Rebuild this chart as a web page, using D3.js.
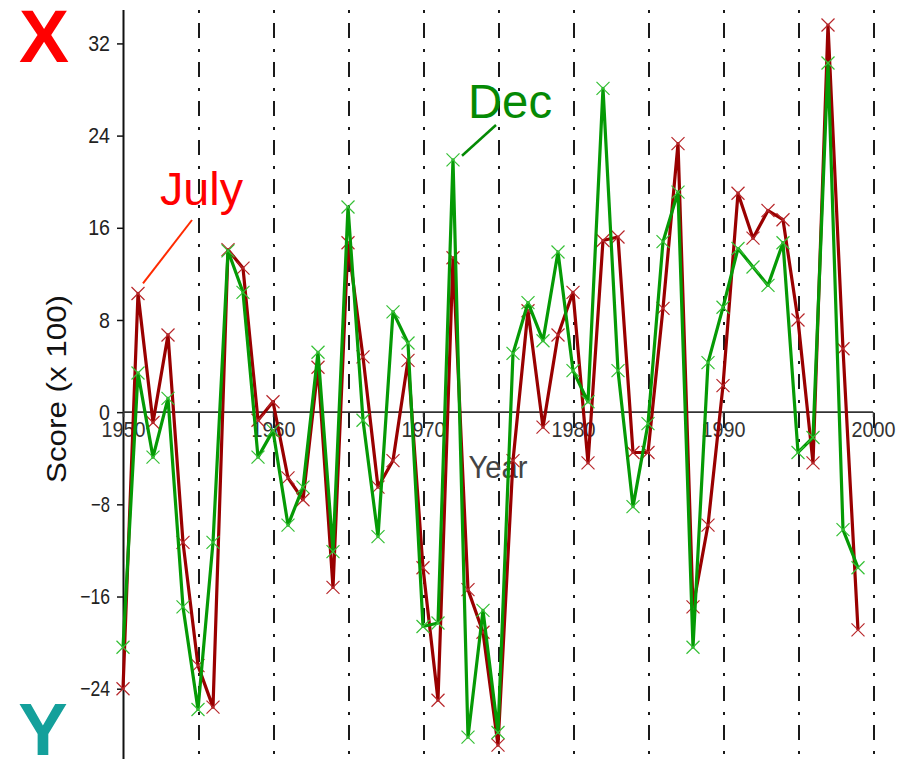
<!DOCTYPE html>
<html>
<head>
<meta charset="utf-8">
<script src="https://cdn.jsdelivr.net/npm/d3@7"></script>
<style>
  html, body { margin: 0; padding: 0; background: #fff; }
  svg { display: block; }
  text { font-family: "Liberation Sans", Arial, sans-serif; }
</style>
</head>
<body>
<svg id="chart" width="905" height="759"></svg>
<script>
// ---------------- data ----------------
const years = [1950,1951,1952,1953,1954,1955,1956,1957,1958,1959,
               1960,1961,1962,1963,1964,1965,1966,1967,1968,1969,
               1970,1971,1972,1973,1974,1975,1976,1977,1978,1979,
               1980,1981,1982,1983,1984,1985,1986,1987,1988,1989,
               1990,1991,1992,1993,1994,1995,1996,1997,1998,1999];
const july = [-24.0, 10.3, -0.9, 6.7, -11.3, -22.0, -25.6, 14.1, 12.5, -0.7,
               0.9, -5.7, -7.6, 3.9, -15.2, 14.7, 4.8, -6.5, -4.2, 4.5,
              -13.5, -25.0, 13.4, -15.4, -19.1, -28.9, -4.2, 8.8, -1.3, 6.7,
               10.4, -4.4, 14.9, 15.2, -3.5, -3.5, 9.0, 23.3, -16.9, -9.8,
               2.3, 19.0, 15.1, 17.5, 16.7, 8.0, -4.4, 33.6, 5.5, -18.9];
const dec = [-20.4, 3.4, -3.9, 1.2, -16.9, -25.8, -11.3, 14.0, 10.4, -3.9,
             -1.6, -9.8, -6.5, 5.2, -12.1, 17.8, -0.7, -10.8, 8.7, 6.0,
             -18.6, -18.3, 21.9, -28.2, -17.2, -27.8, 5.1, 9.5, 6.2, 13.9,
              3.6, 0.9, 28.1, 3.6, -8.2, -1.0, 14.8, 19.1, -20.4, 4.3,
              9.1, 14.2, 12.6, 11.0, 14.7, -3.5, -2.2, 30.3, -10.2, -13.5];
const yTicks = [-24, -16, -8, 0, 8, 16, 24, 32];
const xTicks = [1950, 1960, 1970, 1980, 1990, 2000];
const gridYears = [1955, 1960, 1965, 1970, 1975, 1980, 1985, 1990, 1995, 2000];
const xDomain = [1950, 2000];
const yDomain = [-30.1, 34.9];

// ---------------- layout ----------------
const svg = d3.select("#chart");
const plotL = 123, plotR = 873, plotT = 10, plotB = 759;
const x = d3.scaleLinear().domain(xDomain).range([plotL, plotR]);
const y = d3.scaleLinear().domain(yDomain).range([plotB, plotT]);

// vertical dash-dot grid lines
svg.append("g").selectAll("line").data(gridYears).join("line")
  .attr("x1", d => Math.round(x(d)) + 0.5).attr("x2", d => Math.round(x(d)) + 0.5)
  .attr("y1", plotT).attr("y2", plotB)
  .attr("stroke", "#1a1a1a").attr("stroke-width", 2)
  .attr("stroke-dasharray", "3,10,15,11")
  .attr("shape-rendering", "crispEdges");

// left (y) axis
const yAxis = d3.axisLeft(y).tickValues(yTicks).tickSize(6).tickPadding(6);
const gy = svg.append("g").attr("transform", `translate(${plotL},0)`).call(yAxis);
gy.select(".domain").remove();
gy.selectAll(".tick line").attr("stroke", "#111").attr("stroke-width", 1.5);
gy.selectAll(".tick text")
  .attr("font-size", 22).attr("fill", "#222")
  .attr("font-family", "Liberation Sans, Arial, sans-serif")
  .attr("x", -13)
  .attr("textLength", d => (String(Math.abs(d)).length * 10.9 + (d < 0 ? 8 : 0)))
  .attr("lengthAdjust", "spacingAndGlyphs");
svg.append("line")
  .attr("x1", plotL + 0.5).attr("x2", plotL + 0.5).attr("y1", plotT).attr("y2", plotB)
  .attr("stroke", "#111").attr("stroke-width", 2);

// horizontal (x) axis at y = 0
const xAxis = d3.axisBottom(x).tickValues(xTicks).tickFormat(d3.format("d")).tickSize(5).tickPadding(4);
const gx = svg.append("g").attr("transform", `translate(0,${y(0)})`).call(xAxis);
gx.select(".domain").attr("stroke", "#333").attr("stroke-width", 1.6)
  .attr("d", `M${plotL},0H${plotR}`);
gx.selectAll(".tick line").attr("stroke", "#333").attr("stroke-width", 1.5);
gx.selectAll(".tick text")
  .attr("font-size", 22).attr("fill", "#333")
  .attr("font-family", "Liberation Sans, Arial, sans-serif")
  .attr("textLength", 44).attr("lengthAdjust", "spacingAndGlyphs");

// axis titles
svg.append("text")
  .attr("x", 498).attr("y", 478)
  .attr("text-anchor", "middle")
  .attr("font-size", 31).attr("fill", "#444")
  .attr("textLength", 59).attr("lengthAdjust", "spacingAndGlyphs")
  .text("Year");
svg.append("text")
  .attr("transform", "translate(66,389) rotate(-90)")
  .attr("text-anchor", "middle")
  .attr("font-size", 28).attr("fill", "#111")
  .attr("textLength", 188).attr("lengthAdjust", "spacingAndGlyphs")
  .text("Score (x 100)");

// big corner letters
svg.append("text").attr("x", 44).attr("y", 62).attr("text-anchor", "middle")
  .attr("font-size", 75).attr("font-weight", "bold").attr("fill", "#ff0000").text("X");
svg.append("text").attr("x", 43).attr("y", 755).attr("text-anchor", "middle")
  .attr("font-size", 74).attr("font-weight", "bold").attr("fill", "#14a09b").text("Y");

// series
const series = [
  { name: "July", values: july, line: "#990000", marker: "#b8272b" },
  { name: "Dec",  values: dec,  line: "#059a05", marker: "#35c035" }
];
const lineGen = d3.line().x(d => x(d[0])).y(d => y(d[1]));
series.forEach(s => {
  const pts = years.map((yr, i) => [yr, s.values[i]]);
  svg.append("path").datum(pts)
    .attr("fill", "none").attr("stroke", s.line).attr("stroke-width", 3.2)
    .attr("stroke-linejoin", "round")
    .attr("d", lineGen);
  const r = 6.5;
  svg.append("g").selectAll("path").data(pts).join("path")
    .attr("d", d => {
      const cx = x(d[0]), cy = y(d[1]);
      return `M${cx - r},${cy - r}L${cx + r},${cy + r}M${cx - r},${cy + r}L${cx + r},${cy - r}`;
    })
    .attr("stroke", s.marker).attr("stroke-width", 1.2).attr("fill", "none");
});

// annotations
const julyIdx = years.indexOf(1951), decIdx = years.indexOf(1972);
svg.append("line")
  .attr("x1", x(years[julyIdx]) + 5).attr("y1", y(july[julyIdx]) - 10)
  .attr("x2", 192).attr("y2", 220)
  .attr("stroke", "#ff2a00").attr("stroke-width", 2);
svg.append("text").attr("x", 160).attr("y", 205)
  .attr("font-size", 47).attr("fill", "#ff0000")
  .attr("textLength", 83).attr("lengthAdjust", "spacingAndGlyphs")
  .text("July");
svg.append("line")
  .attr("x1", x(years[decIdx]) + 9).attr("y1", y(dec[decIdx]) - 4)
  .attr("x2", 496).attr("y2", 125)
  .attr("stroke", "#058a05").attr("stroke-width", 2.5);
svg.append("text").attr("x", 468).attr("y", 118)
  .attr("font-size", 48).attr("fill", "#058a05")
  .attr("textLength", 84).attr("lengthAdjust", "spacingAndGlyphs")
  .text("Dec");
</script>
</body>
</html>
